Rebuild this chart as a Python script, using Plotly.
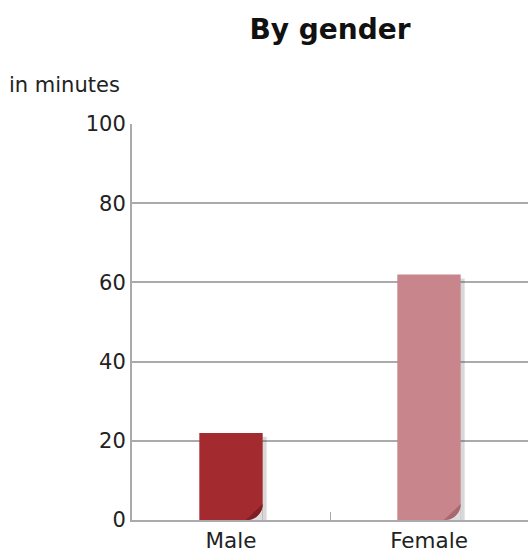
import numpy as np
import plotly.graph_objects as go

categories = ["Male", "Female"]
values = [22, 62]
bar_colors = ["#a32a2f", "#c8868c"]
curl_colors = ["#7e1f24", "#a9686f"]
y_ticks = [0, 20, 40, 60, 80, 100]

W, H = 528, 553
L, R, T, B = 132, 0, 124, 33
plot_w = W - L - R
plot_h = H - T - B
BAR_W = 0.32

FONT = "DejaVu Sans, Liberation Sans, Arial, sans-serif"

xs = list(range(len(categories)))

fig = go.Figure()
# soft shadow behind each bar
fig.add_trace(go.Bar(
    x=xs, y=[v - 0.4 for v in values], base=[-0.6] * len(values),
    width=BAR_W + 0.01, offset=-BAR_W / 2 + 0.01,
    marker=dict(color="rgba(60,60,60,0.20)", line=dict(width=0)),
    hoverinfo="skip", showlegend=False,
))
fig.add_trace(go.Bar(
    x=xs, y=values, width=BAR_W, offset=-BAR_W / 2,
    marker=dict(color=bar_colors, line=dict(width=0)),
    showlegend=False,
))

# curled bottom-right corner of each bar
rx = 16 / 198.0   # corner radius in x units (about 16 px)
ry = 16 / 3.96    # corner radius in y units
t = np.linspace(0, np.pi / 2, 20)
for i, x0 in enumerate(xs):
    xr = x0 + BAR_W / 2
    cx, cy = xr - rx, ry
    arc_x = cx + rx * np.sin(t)          # from bottom (t=0) to right (t=pi/2)
    arc_y = cy - ry * np.cos(t)
    # outside of rounded corner
    ox = [xr] + list(arc_x) + [xr]
    oy = [0] + list(arc_y) + [0]
    fig.add_trace(go.Scatter(x=ox, y=oy, fill="toself", mode="none",
                             fillcolor="#dedede", hoverinfo="skip",
                             showlegend=False))
    # darker curl between arc and chord
    cxs = list(arc_x) + [xr - rx * 1.05]
    cys = list(arc_y) + [0]
    fig.add_trace(go.Scatter(x=cxs, y=cys, fill="toself", mode="none",
                             fillcolor=curl_colors[i], hoverinfo="skip",
                             showlegend=False))

fig.update_layout(
    width=W, height=H,
    margin=dict(l=L, r=R, t=T, b=B),
    paper_bgcolor="white", plot_bgcolor="white",
    barmode="overlay",
    font=dict(family=FONT, size=21, color="#222"),
    title=dict(text="<b>By gender</b>", x=0.5, xref="paper", xanchor="center",
               y=1 - 29 / H, yref="container", yanchor="middle",
               font=dict(family=FONT, size=28, color="#111")),
    xaxis=dict(range=[-0.5, 1.5], showgrid=False, showline=True,
               linecolor="#aaaaad", linewidth=2,
               tickvals=xs, ticktext=categories, ticks="",
               minor=dict(tickvals=[0.5], ticks="inside", ticklen=8,
                          tickcolor="#aaaaad", tickwidth=1, showgrid=False),
               tickfont=dict(size=21.5, color="#222"), zeroline=False),
    yaxis=dict(range=[0, 100], tickvals=y_ticks, showgrid=True,
               gridcolor="#aaaaad", gridwidth=1.8,
               showline=True, linecolor="#aaaaad", linewidth=2,
               ticks="", ticklabelstandoff=0,
               tickfont=dict(size=21, color="#222"), zeroline=False),
    annotations=[dict(text="in minutes", xref="paper", yref="paper",
                      x=(7 - L) / plot_w, y=(H - B - 85) / plot_h,
                      xanchor="left", yanchor="middle", showarrow=False,
                      font=dict(size=21, color="#222"))],
)

fig.write_html("out.html")
